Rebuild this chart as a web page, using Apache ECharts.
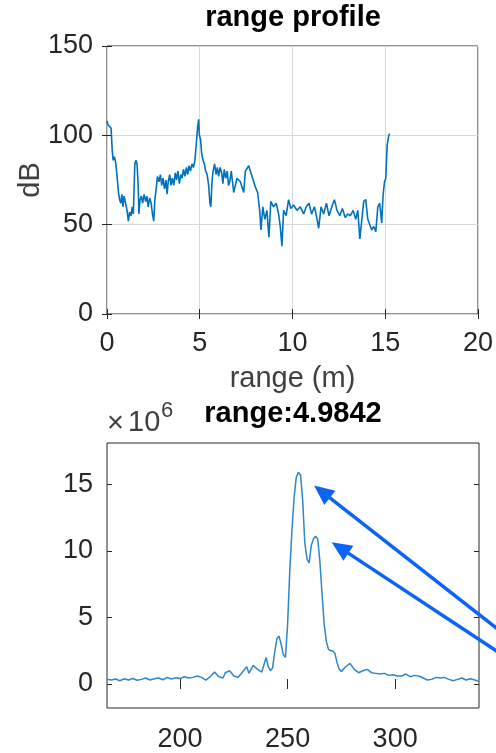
<!DOCTYPE html>
<html>
<head>
<meta charset="utf-8">
<script src="https://cdn.jsdelivr.net/npm/echarts@6/dist/echarts.min.js"></script>
<style>
  html, body { margin: 0; padding: 0; background: #fff; }
  #chart { width: 496px; height: 753px; }
</style>
</head>
<body>
<div id="chart"></div>
<script>
// Range profile: distance (m) and return power (dB)
const rangeM = [
  0.00, 0.05, 0.15, 0.22, 0.28, 0.33, 0.40, 0.48, 0.55, 0.62, 0.68, 0.75, 0.80, 0.86, 0.92,
  1.00, 1.08, 1.15, 1.22, 1.30, 1.36, 1.42, 1.50, 1.56, 1.62, 1.68, 1.72, 1.78, 1.85, 1.92,
  2.00, 2.08, 2.15, 2.22, 2.30, 2.38, 2.45, 2.52, 2.58, 2.65, 2.72, 2.80, 2.88, 2.95, 3.02,
  3.10, 3.18, 3.24, 3.30, 3.38, 3.45, 3.52, 3.60, 3.68, 3.75, 3.82, 3.90, 3.98, 4.05, 4.12,
  4.20, 4.28, 4.35, 4.42, 4.50, 4.58, 4.66, 4.74, 4.82, 4.88, 4.94, 4.98, 5.04, 5.10, 5.18,
  5.25, 5.32, 5.40, 5.48, 5.55, 5.60, 5.66, 5.72, 5.80, 5.88, 5.95, 6.02, 6.10, 6.18, 6.25,
  6.32, 6.40, 6.48, 6.55, 6.62, 6.70, 6.83, 7.01, 7.19, 7.37, 7.46, 7.64, 7.82, 8.00, 8.12,
  8.23, 8.30, 8.40, 8.51, 8.62, 8.73, 8.83, 8.98, 9.12, 9.25, 9.34, 9.43, 9.52, 9.66, 9.79,
  9.91, 10.06, 10.24, 10.42, 10.60, 10.74, 10.89, 11.03, 11.18, 11.29, 11.41, 11.54, 11.68, 11.83, 11.97,
  12.12, 12.26, 12.40, 12.55, 12.69, 12.84, 12.98, 13.12, 13.27, 13.41, 13.52, 13.63, 13.74, 13.84, 13.95,
  14.06, 14.17, 14.27, 14.38, 14.49, 14.60, 14.70, 14.81, 14.88, 14.96, 15.03, 15.10, 15.17, 15.23
];
const powerDb = [
  108, 106, 107, 104, 92, 86, 88, 84, 76, 68, 64, 62, 67, 60, 66,
  62, 58, 52, 57, 55, 60, 56, 84, 86, 84, 72, 56, 64, 66, 62,
  67, 63, 66, 60, 65, 62, 56, 52, 64, 70, 77, 74, 78, 72, 76,
  70, 75, 67, 74, 78, 72, 76, 72, 79, 75, 80, 73, 78, 76, 81,
  77, 82, 78, 83, 80, 84, 82, 86, 96, 104, 109, 100, 98, 90, 86,
  84, 80, 78, 72, 62, 60, 74, 80, 84, 78, 82, 77, 82, 79, 73,
  81, 76, 80, 72, 74, 80, 68, 76, 74, 68, 80, 83, 77, 71, 68,
  58, 47, 60, 53, 58, 43, 63, 60, 62, 56, 49, 38, 58, 55, 64,
  59, 61, 58, 60, 56, 60, 62, 56, 60, 55, 48, 60, 56, 62, 55,
  60, 64, 58, 55, 59, 54, 56, 55, 58, 53, 58, 42, 53, 63, 64,
  53, 50, 47, 49, 46, 60, 62, 51, 66, 74, 76, 94, 99, 101
];

// Detail around the strongest return: bin index and magnitude (x 10^6)
const binIndex = [
  166, 168, 170, 172, 174, 176, 178, 180, 182, 184, 186, 188, 190, 192, 194,
  196, 198, 200, 202, 204, 206, 208, 210, 212, 214, 216, 218, 220, 221, 223,
  225, 227, 229, 231, 232, 234, 236, 238, 240, 241, 242, 243, 244, 245, 246,
  247, 248, 249, 250, 251, 252, 253, 254, 255, 256, 257, 258, 259, 260, 261,
  262, 263, 264, 265, 266, 267, 268, 269, 270, 271, 272, 273, 274, 275, 277,
  279, 281, 283, 285, 287, 289, 291, 293, 295, 297, 299, 301, 303, 305, 307,
  309, 311, 313, 315, 317, 319, 321, 323, 325, 327, 329, 331, 333, 335, 337, 339
];
const magnitudeE6 = [
  0.35, 0.30, 0.38, 0.25, 0.40, 0.30, 0.42, 0.28, 0.35, 0.45, 0.30, 0.40, 0.45, 0.32, 0.50,
  0.38, 0.48, 0.42, 0.55, 0.45, 0.50, 0.60, 0.50, 0.30, 0.55, 0.90, 0.55, 0.45, 0.85, 1.00,
  0.60, 0.50, 0.90, 1.30, 0.80, 1.40, 1.10, 0.90, 2.00, 1.30, 1.00, 1.20, 2.40, 3.40, 3.60,
  3.00, 2.20, 2.00, 4.50, 8.50, 11.5, 14.0, 15.5, 15.9, 15.7, 13.8, 10.6, 9.40, 9.10, 10.4,
  10.9, 11.1, 10.9, 9.20, 6.80, 4.50, 3.20, 2.60, 2.50, 2.50, 2.30, 1.60, 1.10, 0.95, 1.30,
  1.55, 1.10, 0.85, 1.00, 1.10, 0.85, 0.80, 0.75, 0.80, 0.65, 0.70, 0.60, 0.60, 0.75, 0.55,
  0.65, 0.60, 0.45, 0.30, 0.35, 0.50, 0.45, 0.50, 0.35, 0.25, 0.35, 0.45, 0.30, 0.40, 0.30, 0.20
];

// Tick values
const rangeTicks = [0, 5, 10, 15, 20];
const dbTicks = [0, 50, 100, 150];
const binTicks = [200, 250, 300];
const magTicks = [0, 5, 10, 15];

// Points marked by the two arrows (bin, magnitude x 10^6)
const arrowTargets = [[262.3, 14.9], [270.5, 10.65]];

const FONT = "'Liberation Sans', Arial, sans-serif";
const INK = '#262626';
const GRID_GRAY = '#d8d8d8';
const TICK_FONT = 27;

const chart = echarts.init(document.getElementById('chart'), null, { renderer: 'canvas' });

function tickStyle(values) {
  const t = { show: true, inside: true, length: 5, lineStyle: { color: INK, width: 1 } };
  if (values) t.customValues = values;
  return t;
}
function labelStyle(margin, values) {
  const l = { show: true, color: INK, fontSize: TICK_FONT, fontFamily: FONT, margin: margin };
  if (values) l.customValues = values;
  return l;
}
const hidden = { show: false };

const option = {
  animation: false,
  backgroundColor: '#ffffff',
  grid: [
    { left: 107, top: 46, width: 372, height: 268, show: true, borderColor: INK, borderWidth: 1, backgroundColor: 'transparent' },
    { left: 107, top: 443, width: 372, height: 265, show: true, borderColor: INK, borderWidth: 1, backgroundColor: 'transparent' }
  ],
  xAxis: [
    {
      gridIndex: 0, type: 'value', min: rangeTicks[0], max: rangeTicks[rangeTicks.length - 1], interval: 5,
      position: 'bottom', axisLine: hidden, axisTick: tickStyle(), axisLabel: labelStyle(16),
      splitLine: { show: true, lineStyle: { color: GRID_GRAY, width: 1 } },
      name: 'range (m)', nameLocation: 'middle', nameGap: 50, nameMoveOverlap: false,
      nameTextStyle: { color: '#404040', fontSize: 29, fontFamily: FONT }
    },
    {
      gridIndex: 0, type: 'value', min: rangeTicks[0], max: rangeTicks[rangeTicks.length - 1], interval: 5,
      position: 'top', axisLine: hidden, axisTick: tickStyle(), axisLabel: hidden, splitLine: hidden
    },
    {
      gridIndex: 1, type: 'value', min: 166, max: 339,
      position: 'bottom', axisLine: hidden, axisTick: tickStyle(binTicks), axisLabel: labelStyle(18, binTicks),
      splitLine: hidden
    },
    {
      gridIndex: 1, type: 'value', min: 166, max: 339,
      position: 'top', axisLine: hidden, axisTick: tickStyle(binTicks), axisLabel: hidden, splitLine: hidden
    }
  ],
  yAxis: [
    {
      gridIndex: 0, type: 'value', min: dbTicks[0], max: dbTicks[dbTicks.length - 1], interval: 50,
      position: 'left', axisLine: hidden, axisTick: tickStyle(), axisLabel: labelStyle(14),
      splitLine: { show: true, lineStyle: { color: GRID_GRAY, width: 1 } },
      name: 'dB', nameLocation: 'middle', nameGap: 62, nameMoveOverlap: false,
      nameTextStyle: { color: '#404040', fontSize: 29, fontFamily: FONT }
    },
    {
      gridIndex: 0, type: 'value', min: dbTicks[0], max: dbTicks[dbTicks.length - 1], interval: 50,
      position: 'right', axisLine: hidden, axisTick: tickStyle(), axisLabel: hidden, splitLine: hidden
    },
    {
      gridIndex: 1, type: 'value', min: -1.8, max: 18.1,
      position: 'left', axisLine: hidden, axisTick: tickStyle(magTicks), axisLabel: labelStyle(14, magTicks),
      splitLine: hidden
    },
    {
      gridIndex: 1, type: 'value', min: -1.8, max: 18.1,
      position: 'right', axisLine: hidden, axisTick: tickStyle(magTicks), axisLabel: hidden, splitLine: hidden
    }
  ],
  series: [
    {
      type: 'line', xAxisIndex: 0, yAxisIndex: 0, showSymbol: false, symbol: 'none',
      data: rangeM.map((r, i) => [r, powerDb[i]]),
      lineStyle: { color: '#0072BD', width: 1.6 }, clip: true, silent: true
    },
    {
      type: 'line', xAxisIndex: 2, yAxisIndex: 2, showSymbol: false, symbol: 'none',
      data: binIndex.map((b, i) => [b, magnitudeE6[i]]),
      lineStyle: { color: '#2f86c8', width: 1.5 }, clip: true, silent: true
    }
  ]
};
chart.setOption(option);

// Titles, exponent marker and the annotation arrows
const graphics = [
  {
    type: 'text', x: 293, y: 17.5, z: 10,
    style: { text: 'range profile', font: 'bold 29px ' + FONT, fill: '#000', align: 'center', verticalAlign: 'middle' }
  },
  {
    type: 'text', x: 293, y: 414, z: 10,
    style: { text: 'range:4.9842', font: 'bold 29px ' + FONT, fill: '#000', align: 'center', verticalAlign: 'middle' }
  },
  {
    type: 'text', x: 107, y: 424, z: 10,
    style: { text: '\u00d7', font: '29px ' + FONT, fill: '#404040', align: 'left', verticalAlign: 'middle' }
  },
  {
    type: 'text', x: 128, y: 423, z: 10,
    style: { text: '10', font: '29px ' + FONT, fill: '#404040', align: 'left', verticalAlign: 'middle' }
  },
  {
    type: 'text', x: 161, y: 411, z: 10,
    style: { text: '6', font: '22px ' + FONT, fill: '#404040', align: 'left', verticalAlign: 'middle' }
  }
];

const arrowAngles = [38, 33.4];
const ARROW_BLUE = '#0a64f5';
arrowTargets.forEach((target, k) => {
  const tip = chart.convertToPixel({ xAxisIndex: 2, yAxisIndex: 2 }, target);
  const a = arrowAngles[k] * Math.PI / 180;
  const dx = Math.cos(a), dy = Math.sin(a);
  const headLen = 20, headHalf = 9;
  const base = [tip[0] + dx * headLen, tip[1] + dy * headLen];
  const tail = [tip[0] + dx * 320, tip[1] + dy * 320];
  graphics.push({
    type: 'polyline', z: 20, silent: true,
    shape: { points: [[base[0] - dx * 2, base[1] - dy * 2], tail] },
    style: { stroke: ARROW_BLUE, lineWidth: 3.5, fill: null }
  });
  graphics.push({
    type: 'polygon', z: 21, silent: true,
    shape: {
      points: [
        tip,
        [base[0] - dy * headHalf, base[1] + dx * headHalf],
        [base[0] + dy * headHalf, base[1] - dx * headHalf]
      ]
    },
    style: { fill: ARROW_BLUE, stroke: null }
  });
});

chart.setOption({ graphic: graphics });
</script>
</body>
</html>
